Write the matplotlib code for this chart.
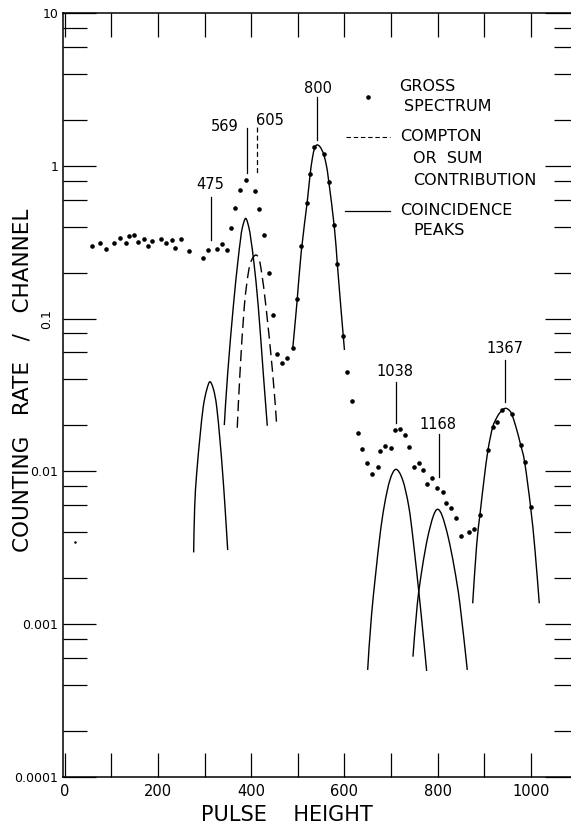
import matplotlib
matplotlib.use("Agg")
import matplotlib.pyplot as plt
import numpy as np
from matplotlib.path import Path
from matplotlib.patches import PathPatch

# ---------------- data ----------------
gross_x = [57.9, 76.8, 88.6, 106.4, 118.6, 130.8, 137.9, 149.3, 157.8, 169.4, 178.6, 187.9,
           206.5, 217.9, 229.5, 237.2, 248.8, 266.6, 296.6, 307.3, 326.6, 338.4, 348.1, 356.6,
           365.9, 376.6, 388.2, 407.5, 416.2, 427.4, 438.1, 447.3, 456.4, 466.6, 477.8, 489.6,
           498.2, 507.4, 520.3, 526.0, 535.3, 556.1, 566.1, 578.2, 584.6, 597.5, 604.7, 617.2,
           628.3, 638.0, 649.4, 660.1, 671.9, 677.2, 687.5, 700.4, 709.0, 719.7, 729.8, 738.4,
           749.1, 759.2, 769.0, 778.0, 788.7, 798.8, 811.3, 817.3, 829.5, 839.6, 849.2, 867.4,
           878.2, 891.3, 908.2, 917.8, 927.7, 938.4, 958.6, 977.9, 986.5, 999.3]
gross_y = [0.300, 0.314, 0.285, 0.314, 0.338, 0.312, 0.347, 0.351, 0.319, 0.332, 0.297, 0.324,
           0.332, 0.312, 0.327, 0.290, 0.333, 0.278, 0.251, 0.283, 0.285, 0.310, 0.281, 0.390,
           0.532, 0.698, 0.807, 0.689, 0.518, 0.355, 0.198, 0.105, 0.0591, 0.0514, 0.0550, 0.0642,
           0.1338, 0.300, 0.568, 0.884, 1.334, 1.189, 0.780, 0.412, 0.228, 0.0766, 0.0449, 0.0287,
           0.01797, 0.01402, 0.01143, 0.00962, 0.01069, 0.01354, 0.01460, 0.01417, 0.01866, 0.01904,
           0.01723, 0.01455, 0.01074, 0.01130, 0.01014, 0.00825, 0.00901, 0.00779, 0.00730, 0.00617,
           0.00574, 0.00497, 0.00377, 0.00400, 0.00421, 0.00522, 0.01387, 0.01944, 0.02118, 0.0252,
           0.02367, 0.01489, 0.01147, 0.00582]

stray_x = [22.1]
stray_y = [0.00347]

# coincidence peaks (solid)
c475_x = [276.6, 278.8, 283.1, 290.2, 297.2, 304.5, 311.6, 319.5, 326.0, 333.0, 338.8, 343.8, 349.6]
c475_y = [0.00295, 0.00588, 0.00972, 0.01687, 0.0265, 0.0341, 0.0386, 0.0341, 0.0265, 0.01605,
          0.00972, 0.00588, 0.00306]
c569_x = [342.3, 349.6, 361.6, 371.0, 377.0, 380.9, 388.2, 395.2, 399.5, 406.0, 415.2, 425.9, 434.5]
c569_y = [0.0201, 0.0439, 0.1197, 0.230, 0.327, 0.392, 0.453, 0.392, 0.327, 0.230, 0.1197, 0.0439, 0.0199]
c800_x = [489.0, 498.2, 507.4, 520.3, 526.0, 531.4, 535.7, 540.4, 546.4, 551.8, 556.1, 561.4,
          566.1, 578.2, 584.6, 591.0, 597.5, 600.0]
c800_y = [0.0632, 0.128, 0.275, 0.585, 0.860, 1.13, 1.29, 1.368, 1.345, 1.265, 1.17, 1.00,
          0.80, 0.40, 0.23, 0.132, 0.0766, 0.0623]
c1038_x = [649.8, 658.4, 674.7, 685.4, 697.6, 710.5, 724.8, 737.7, 747.6, 763.4, 776.3]
c1038_y = [0.000502, 0.00118, 0.00350, 0.00595, 0.00880, 0.01032, 0.00880, 0.00595, 0.00350,
           0.00125, 0.000494]
c1168_x = [746.9, 756.2, 766.9, 778.5, 790.5, 799.9, 809.8, 822.6, 835.5, 847.7, 863.4]
c1168_y = [0.000613, 0.00135, 0.00235, 0.00370, 0.00510, 0.00565, 0.00510, 0.00370, 0.00235,
           0.00135, 0.000502]
c1367_x = [875.0, 883.5, 890.6, 899.2, 907.8, 917.8, 927.7, 935.6, 944.9, 952.8, 958.6, 967.8,
           977.9, 986.5, 999.3, 1008.6, 1017.8]
c1367_y = [0.00137, 0.0033, 0.00521, 0.00878, 0.0138, 0.01944, 0.0228, 0.02466, 0.02588, 0.02522,
           0.02374, 0.01953, 0.01489, 0.01147, 0.00582, 0.00306, 0.00137]

# Compton / sum contribution (dashed)
c605_x = [370.1, 375.9, 385.2, 393.7, 401.0, 410.2, 417.3, 422.5, 431.7, 446.1, 454.6]
c605_y = [0.0193, 0.0439, 0.1197, 0.198, 0.2417, 0.2607, 0.2417, 0.198, 0.1197, 0.0439, 0.0203]

# peak annotations: label, label x, label y, line x, line y0, line y1, dashed
ann_labels = ["475", "569", "605", "800", "1038", "1168", "1367"]
ann_text_x = [311.6, 343.8, 440.3, 542.6, 708.3, 801.2, 944.2]
ann_text_y = [0.749, 1.803, 1.994, 3.216, 0.0449, 0.0204, 0.0639]
ann_line_x = [313.1, 390.3, 411.7, 541.0, 710.5, 802.7, 944.2]
ann_line_y0 = [0.628, 1.776, 1.803, 2.833, 0.0386, 0.01757, 0.0536]
ann_line_y1 = [0.327, 0.893, 0.871, 1.475, 0.02065, 0.00923, 0.0286]
ann_dashed = [False, False, True, False, False, False, False]

x_ticks = [0, 100, 200, 300, 400, 500, 600, 700, 800, 900, 1000]
x_ticklabels = ["0", "", "200", "", "400", "", "600", "", "800", "", "1000"]
y_ticks = [1e-4, 1e-3, 1e-2, 1e-1, 1, 10]
y_ticklabels = ["0.0001", "0.001", "0.01", "", "1", "10"]
y_minor = [m * d for d in [1e-4, 1e-3, 1e-2, 1e-1, 1] for m in (2, 4, 6, 8)]


def smooth_path(xs, ys):
    """Smooth drawing of a curve through the read points (cubic Bezier, log-y space)."""
    lx = np.asarray(xs, float)
    ly = np.log10(np.asarray(ys, float))
    n = len(lx)
    verts = [(lx[0], ly[0])]
    codes = [Path.MOVETO]
    for i in range(n - 1):
        i0, i3 = max(i - 1, 0), min(i + 2, n - 1)
        c1 = (lx[i] + (lx[i + 1] - lx[i0]) / 6, ly[i] + (ly[i + 1] - ly[i0]) / 6)
        c2 = (lx[i + 1] - (lx[i3] - lx[i]) / 6, ly[i + 1] - (ly[i3] - ly[i]) / 6)
        verts += [c1, c2, (lx[i + 1], ly[i + 1])]
        codes += [Path.CURVE4] * 3
    verts = [(vx, 10 ** vy) for vx, vy in verts]
    return Path(verts, codes)


# ---------------- figure ----------------
plt.rcParams['font.family'] = ['DejaVu Sans']
W, H = 571, 826
fig = plt.figure(figsize=(W / 100, H / 100), dpi=100)
ax_left, ax_right, ax_top, ax_bot = 63, 577.6, 13, 777
ax = fig.add_axes([ax_left / W, (H - ax_bot) / H, (ax_right - ax_left) / W, (ax_bot - ax_top) / H])
ax.set_yscale('log')
ax.set_xlim(-3.6, 1100)
ax.set_ylim(1e-4, 10)

for s in ax.spines.values():
    s.set_linewidth(1.1)
ax.spines['right'].set_visible(False)

ax.set_xticks(x_ticks)
ax.set_xticklabels(x_ticklabels)
ax.tick_params(axis='x', which='major', direction='in', length=17, width=0.9,
               top=True, bottom=True, labelsize=10.5, pad=5)
ax.set_yticks(y_ticks)
ax.set_yticklabels(y_ticklabels)
ax.set_yticks(y_minor, minor=True)
ax.yaxis.set_minor_formatter(plt.NullFormatter())
ax.tick_params(axis='y', which='major', direction='in', length=24, width=0.9,
               left=True, right=True, labelsize=9, pad=3.5)
ax.tick_params(axis='y', which='minor', direction='in', length=17, width=0.9,
               left=True, right=True)
# the 0.1 label is written sideways in the original
ax.text(-0.031, 0.1, "0.1", transform=ax.get_yaxis_transform(), rotation=90,
        ha='center', va='center', fontsize=9)

# gross spectrum
ax.plot(gross_x, gross_y, 'o', color='black', markersize=3.3, markeredgewidth=0)
ax.plot(stray_x, stray_y, 'o', color='black', markersize=1.8, markeredgewidth=0)

# coincidence peaks
for cx, cy in [(c475_x, c475_y), (c569_x, c569_y), (c800_x, c800_y),
               (c1038_x, c1038_y), (c1168_x, c1168_y), (c1367_x, c1367_y)]:
    ax.add_patch(PathPatch(smooth_path(cx, cy), fill=False, lw=1.0, ec='black',
                           transform=ax.transData))
ax.add_patch(PathPatch(smooth_path(c605_x, c605_y), fill=False, lw=1.0, ec='black',
                       linestyle=(0, (8, 4)), transform=ax.transData))

# annotations
for lab, tx, ty, lx, l0, l1, d in zip(ann_labels, ann_text_x, ann_text_y, ann_line_x,
                                      ann_line_y0, ann_line_y1, ann_dashed):
    ax.text(tx, ty, lab, ha='center', va='center', fontsize=10.5)
    if d:
        ax.plot([lx, lx], [l0, l1], color='black', lw=0.9, dashes=(4, 2.5))
    else:
        ax.plot([lx, lx], [l0, l1], color='black', lw=0.9)

# legend (hand-lettered key)
leg_fs = 11.5
ax.plot([0.5921], [0.8904], 'o', color='black', markersize=3.3, markeredgewidth=0,
        transform=ax.transAxes)
ax.text(0.6529, 0.9035, "GROSS", transform=ax.transAxes, ha='left', va='center', fontsize=leg_fs)
ax.text(0.6627, 0.8773, "SPECTRUM", transform=ax.transAxes, ha='left', va='center', fontsize=leg_fs)
ax.plot([0.5499, 0.6355], [0.8381, 0.8381], color='black', lw=0.8, dashes=(4, 2.5),
        transform=ax.transAxes)
ax.text(0.6549, 0.839, "COMPTON", transform=ax.transAxes, ha='left', va='center', fontsize=leg_fs)
ax.text(0.6801, 0.8093, "OR  SUM", transform=ax.transAxes, ha='left', va='center', fontsize=leg_fs)
ax.text(0.6801, 0.7814, "CONTRIBUTION", transform=ax.transAxes, ha='left', va='center', fontsize=leg_fs)
ax.plot([0.5480, 0.6355], [0.7412, 0.7412], color='black', lw=0.9, transform=ax.transAxes)
ax.text(0.6549, 0.7421, "COINCIDENCE", transform=ax.transAxes, ha='left', va='center', fontsize=leg_fs)
ax.text(0.6801, 0.7147, "PEAKS", transform=ax.transAxes, ha='left', va='center', fontsize=leg_fs)

# axis titles
fig.text(287 / W, 1 - 815 / H, "PULSE    HEIGHT", ha='center', va='center', fontsize=15)
fig.text(23 / W, 1 - 380 / H, "COUNTING   RATE   /   CHANNEL", ha='center', va='center',
         rotation=90, fontsize=15.5)

fig.savefig("out.png", dpi=100)
